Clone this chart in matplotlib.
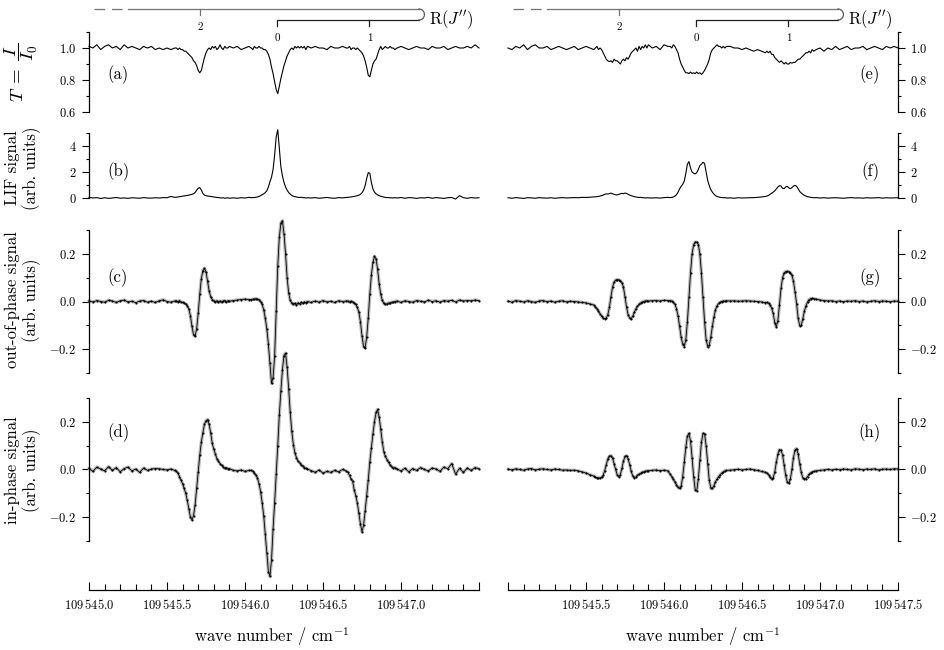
import numpy as np
import matplotlib
matplotlib.use("Agg")
import matplotlib.pyplot as plt
from matplotlib.lines import Line2D
from matplotlib.ticker import FixedLocator, FuncFormatter
from matplotlib.transforms import blended_transform_factory

plt.rcParams.update({
    "font.family": "serif",
    "font.serif": ["cmr10", "DejaVu Serif"],
    "mathtext.fontset": "cm",
    "axes.formatter.use_mathtext": True,
    "axes.linewidth": 0.9,
})

# ---------------------------------------------------------------- data
# sample positions (cm^-1), shared by all eight traces
wavenumber = [
    109545.000, 109545.025, 109545.050, 109545.075, 109545.100, 109545.125, 109545.150, 109545.175,
    109545.200, 109545.225, 109545.250, 109545.275, 109545.300, 109545.325, 109545.350, 109545.375,
    109545.400, 109545.425, 109545.450, 109545.475, 109545.500, 109545.525, 109545.550,
    109545.56, 109545.57, 109545.58, 109545.59, 109545.60, 109545.61, 109545.62, 109545.63, 109545.64,
    109545.65, 109545.66, 109545.67, 109545.68, 109545.69, 109545.70, 109545.71, 109545.72, 109545.73,
    109545.74, 109545.75, 109545.76, 109545.77, 109545.78, 109545.79, 109545.80, 109545.81, 109545.82,
    109545.83, 109545.84, 109545.85, 109545.86, 109545.87, 109545.88, 109545.89, 109545.90,
    109545.925, 109545.950, 109545.975, 109546.000, 109546.025,
    109546.04, 109546.05, 109546.06, 109546.07, 109546.08, 109546.09, 109546.10, 109546.11, 109546.12,
    109546.13, 109546.14, 109546.15, 109546.16, 109546.17, 109546.18, 109546.19, 109546.20, 109546.21,
    109546.22, 109546.23, 109546.24, 109546.25, 109546.26, 109546.27, 109546.28, 109546.29, 109546.30,
    109546.31, 109546.32, 109546.33, 109546.34, 109546.35, 109546.36, 109546.37, 109546.38, 109546.39,
    109546.40,
    109546.425, 109546.450, 109546.475, 109546.500, 109546.525, 109546.550, 109546.575, 109546.600,
    109546.625, 109546.650,
    109546.66, 109546.67, 109546.68, 109546.69, 109546.70, 109546.71, 109546.72, 109546.73, 109546.74,
    109546.75, 109546.76, 109546.77, 109546.78, 109546.79, 109546.80, 109546.81, 109546.82, 109546.83,
    109546.84, 109546.85, 109546.86, 109546.87, 109546.88, 109546.89, 109546.90, 109546.91, 109546.92,
    109546.93, 109546.94, 109546.95, 109546.96,
    109546.975, 109547.000, 109547.025, 109547.050, 109547.075, 109547.100, 109547.125, 109547.150,
    109547.175, 109547.200, 109547.225, 109547.250, 109547.275, 109547.300, 109547.325, 109547.350,
    109547.375, 109547.400, 109547.425, 109547.450, 109547.475, 109547.500,
]

# (a) transmission T = I/I0, left column
transmission_left = [
    1.01, 1.00, 1.02, 0.99, 1.01, 1.02, 1.00, 1.01, 0.99, 1.02, 1.00, 1.01, 1.00, 0.99, 1.01, 1.00,
    1.01, 0.99, 1.00, 0.99, 1.00, 0.99, 1.00,
    1.00, 0.99, 1.00, 0.99, 0.99, 0.98, 0.98, 0.97, 0.96, 0.95, 0.94, 0.92, 0.91, 0.89, 0.86, 0.845,
    0.86, 0.90, 0.94, 0.97, 0.99, 1.00, 0.99, 1.01, 1.00, 1.01, 0.99, 1.00, 1.02, 1.00, 0.99, 1.01,
    1.00, 1.00, 1.01,
    1.00, 1.01, 0.99, 1.00, 1.01,
    1.00, 0.99, 1.01, 1.00, 1.00, 1.01, 1.00, 1.00, 0.99, 0.99, 0.98, 0.96, 0.93, 0.88, 0.84, 0.79,
    0.74, 0.715, 0.76, 0.81, 0.85, 0.89, 0.92, 0.95, 0.97, 0.99, 1.00, 0.99, 1.01, 1.00, 1.01, 1.00,
    1.01, 1.00, 1.01, 0.99, 1.01,
    1.00, 1.01, 1.00, 1.00, 0.99, 1.01, 1.00, 1.00, 1.01, 1.00,
    1.00, 1.01, 0.99, 1.00, 1.00, 0.99, 1.00, 0.99, 0.98, 0.97, 0.95, 0.92, 0.88, 0.83, 0.82, 0.86,
    0.90, 0.92, 0.93, 0.96, 0.99, 1.01, 0.99, 1.00, 1.01, 1.00, 1.00, 1.01, 1.00, 1.00, 0.99,
    1.00, 1.01, 1.00, 0.99, 1.00, 1.01, 1.00, 1.00, 0.99, 1.01, 1.00, 1.00, 1.01, 0.99, 1.00, 1.01,
    1.00, 1.00, 1.01, 1.00, 1.02, 1.00,
]

# (b) LIF signal, left column
lif_left = [
    0.05, 0.00, 0.03, -0.04, 0.02, -0.03, 0.00, 0.04, -0.02, 0.01, -0.03, 0.02, 0.00, -0.02, 0.03,
    0.00, -0.01, 0.02, 0.00, 0.03, 0.02, 0.12, 0.05,
    0.06, 0.08, 0.10, 0.12, 0.14, 0.16, 0.18, 0.20, 0.22, 0.25, 0.28, 0.33, 0.42, 0.60, 0.75, 0.80,
    0.62, 0.35, 0.22, 0.18, 0.15, 0.14, 0.12, 0.10, 0.08, 0.06, 0.04, 0.03, 0.02, 0.00, 0.02, -0.02,
    0.00, 0.01, -0.02,
    0.01, -0.02, 0.02, 0.00, 0.05,
    0.02, 0.04, 0.03, 0.06, 0.08, 0.12, 0.18, 0.25, 0.32, 0.42, 0.55, 0.85, 1.25, 1.60, 2.20, 3.30,
    4.70, 5.25, 3.80, 2.40, 1.70, 1.20, 0.85, 0.60, 0.42, 0.30, 0.20, 0.14, 0.10, 0.08, 0.05, 0.04,
    0.06, 0.02, 0.03, 0.00, 0.02,
    0.00, 0.03, -0.02, 0.01, 0.04, 0.00, -0.02, 0.03, 0.01, 0.04,
    0.05, 0.06, 0.08, 0.10, 0.12, 0.15, 0.18, 0.22, 0.28, 0.40, 0.60, 0.95, 1.50, 1.95, 1.90, 1.20,
    0.70, 0.45, 0.32, 0.24, 0.18, 0.13, 0.10, 0.07, 0.05, 0.03, 0.04, 0.01, 0.02, 0.00, 0.03,
    0.00, 0.04, -0.02, 0.03, 0.01, -0.03, 0.02, 0.00, 0.05, -0.02, 0.03, 0.00, -0.03, 0.02, 0.04,
    -0.08, 0.18, 0.02, -0.02, 0.03, 0.00, 0.02,
]

# (c) out-of-phase signal, left column
outphase_left = [
    0.003, -0.002, 0.004, 0.000, -0.003, 0.005, 0.002, -0.004, 0.003, 0.006, -0.002, 0.001, -0.005,
    0.002, 0.004, -0.003, 0.001, -0.004, 0.003, 0.007, 0.000, -0.003, 0.002,
    0.003, -0.002, 0.004, -0.003, -0.004, -0.006, -0.010, -0.018, -0.032, -0.060, -0.105, -0.140,
    -0.145, -0.115, -0.050, 0.030, 0.095, 0.130, 0.140, 0.125, 0.085, 0.045, 0.020, 0.008, 0.004,
    -0.002, 0.003, -0.004, 0.002, -0.003, 0.002, 0.004, -0.002, 0.003, 0.001,
    0.004, 0.006, 0.008, 0.010, 0.008,
    0.008, 0.010, 0.009, 0.012, 0.010, 0.008, 0.000, -0.012, -0.035, -0.070, -0.115, -0.180, -0.260,
    -0.345, -0.320, -0.230, -0.040, 0.150, 0.270, 0.330, 0.340, 0.285, 0.200, 0.100, 0.035, 0.005,
    -0.008, -0.012, -0.008, -0.015, -0.006, -0.010, -0.004, -0.008, -0.002, -0.005, 0.000,
    -0.004, 0.002, -0.003, 0.004, -0.002, 0.001, -0.004, 0.003, 0.000, 0.002,
    0.002, -0.003, 0.001, -0.002, -0.006, -0.012, -0.025, -0.045, -0.085, -0.145, -0.190, -0.195,
    -0.150, -0.070, 0.030, 0.110, 0.165, 0.190, 0.180, 0.135, 0.075, 0.030, 0.005, -0.008, -0.012,
    -0.010, -0.006, -0.008, -0.003, -0.004, 0.000,
    0.002, -0.004, 0.003, 0.000, -0.003, 0.004, 0.001, -0.002, 0.005, 0.000, 0.003, -0.003, 0.004,
    0.001, 0.005, -0.002, 0.006, 0.002, 0.004, 0.003, 0.006, 0.004,
]

# (d) in-phase signal, left column
inphase_left = [
    0.005, -0.008, 0.010, 0.002, -0.006, 0.012, -0.004, 0.008, -0.010, 0.004, 0.010, -0.006, 0.002,
    -0.012, 0.006, -0.004, 0.002, 0.004, 0.003, 0.000, -0.002, 0.002, -0.004,
    -0.008, -0.015, -0.030, -0.045, -0.060, -0.080, -0.100, -0.130, -0.165, -0.200, -0.212, -0.195,
    -0.150, -0.080, -0.010, 0.060, 0.115, 0.155, 0.190, 0.205, 0.210, 0.190, 0.155, 0.110, 0.085,
    0.065, 0.045, 0.035, 0.025, 0.018, 0.012, 0.005, 0.008, 0.002, 0.004,
    -0.004, -0.006, -0.002, -0.008, -0.004,
    -0.004, -0.008, -0.015, -0.025, -0.036, -0.060, -0.093, -0.140, -0.195, -0.270, -0.350, -0.430,
    -0.450, -0.380, -0.250, -0.140, -0.020, 0.100, 0.230, 0.330, 0.420, 0.480, 0.490, 0.430, 0.340,
    0.240, 0.160, 0.105, 0.070, 0.050, 0.035, 0.028, 0.020, 0.015, 0.008, 0.005, 0.002,
    -0.005, -0.012, -0.002, -0.015, -0.008, -0.012, -0.004, -0.010, 0.000, -0.006,
    -0.012, -0.025, -0.040, -0.050, -0.085, -0.110, -0.140, -0.185, -0.230, -0.262, -0.235, -0.175,
    -0.110, -0.045, 0.030, 0.090, 0.150, 0.200, 0.240, 0.253, 0.220, 0.170, 0.115, 0.075, 0.055,
    0.042, 0.030, 0.020, 0.012, 0.006, 0.008,
    0.002, -0.006, 0.005, -0.010, 0.004, -0.004, 0.008, 0.000, -0.006, 0.006, 0.002, -0.008, 0.010,
    0.003, 0.025, -0.020, 0.005, -0.012, 0.006, -0.004, 0.008, 0.003,
]

# (e) transmission, right column
transmission_right = [
    1.00, 0.99, 1.01, 1.00, 1.02, 0.99, 1.01, 1.02, 1.00, 1.00, 1.01, 0.99, 1.00, 1.01, 1.00, 0.99,
    1.00, 1.01, 0.99, 1.00, 1.01, 1.00, 0.99,
    1.00, 1.01, 0.99, 1.00, 0.99, 0.97, 0.95, 0.93, 0.92, 0.915, 0.92, 0.91, 0.93, 0.92, 0.92, 0.91,
    0.90, 0.92, 0.93, 0.92, 0.94, 0.93, 0.95, 0.97, 0.98, 0.99, 1.00, 0.98, 1.01, 0.99, 1.01, 1.00,
    1.02, 1.00, 1.02,
    1.00, 1.01, 0.99, 1.02, 1.01,
    1.01, 1.00, 1.02, 1.01, 0.99, 0.97, 0.93, 0.90, 0.88, 0.86, 0.845, 0.845, 0.84, 0.85, 0.84,
    0.845, 0.84, 0.85, 0.84, 0.845, 0.835, 0.845, 0.86, 0.88, 0.90, 0.93, 0.97, 0.99, 1.00, 1.01,
    1.02, 1.01, 1.01, 1.00, 1.01, 1.00, 1.01,
    1.01, 1.00, 1.00, 0.99, 1.00, 0.99, 0.98, 0.99, 0.98, 0.97,
    0.98, 0.97, 0.98, 0.96, 0.96, 0.94, 0.93, 0.92, 0.91, 0.92, 0.91, 0.90, 0.91, 0.90, 0.90, 0.91,
    0.905, 0.91, 0.91, 0.92, 0.93, 0.93, 0.94, 0.95, 0.96, 0.97, 0.97, 0.98, 0.97, 0.99, 0.98,
    0.99, 1.00, 0.98, 1.00, 0.99, 1.01, 0.99, 1.00, 1.01, 0.99, 1.00, 1.00, 1.01, 0.99, 1.00, 1.01,
    1.00, 0.99, 1.01, 1.00, 1.01, 1.00,
]

# (f) LIF signal, right column
lif_right = [
    0.02, -0.02, 0.03, 0.00, -0.03, 0.02, 0.01, -0.02, 0.03, 0.00, -0.01, 0.02, -0.02, 0.01, 0.03,
    0.00, 0.02, 0.03, 0.02, 0.05, 0.04, 0.06, 0.08,
    0.08, 0.10, 0.12, 0.15, 0.18, 0.22, 0.28, 0.32, 0.30, 0.34, 0.38, 0.32, 0.28, 0.25, 0.24, 0.28,
    0.32, 0.36, 0.33, 0.38, 0.35, 0.28, 0.22, 0.18, 0.14, 0.10, 0.08, 0.06, 0.04, 0.05, 0.02, 0.03,
    0.00, 0.02, 0.01,
    0.00, 0.02, -0.01, 0.03, 0.05,
    0.03, 0.05, 0.08, 0.15, 0.25, 0.45, 0.70, 0.90, 1.05, 1.30, 1.90, 2.60, 2.80, 2.30, 2.00, 1.90,
    1.85, 1.95, 2.20, 2.50, 2.60, 2.75, 2.65, 2.00, 1.35, 0.95, 0.65, 0.45, 0.30, 0.18, 0.12, 0.08,
    0.05, 0.04, 0.02, 0.03, 0.00,
    0.01, -0.02, 0.02, 0.00, 0.01, 0.02, 0.03, 0.05, 0.08, 0.12,
    0.15, 0.20, 0.28, 0.35, 0.45, 0.55, 0.70, 0.85, 0.95, 0.92, 0.75, 0.72, 0.85, 0.90, 0.78, 0.72,
    0.80, 0.92, 0.97, 0.90, 0.70, 0.50, 0.38, 0.28, 0.20, 0.15, 0.10, 0.08, 0.05, 0.04, 0.02,
    0.03, 0.00, 0.02, -0.01, 0.01, 0.02, 0.00, -0.02, 0.01, 0.03, 0.00, 0.01, -0.01, 0.02, 0.00,
    0.01, 0.03, -0.01, 0.02, 0.00, 0.01, 0.02,
]

# (g) out-of-phase signal, right column
outphase_right = [
    0.002, -0.003, 0.004, 0.001, -0.002, 0.003, 0.000, -0.004, 0.002, 0.004, -0.001, 0.002, -0.003,
    0.001, 0.003, -0.002, 0.001, 0.000, -0.002, -0.004, -0.006, -0.010, -0.015,
    -0.022, -0.030, -0.040, -0.052, -0.062, -0.070, -0.072, -0.070, -0.055, -0.025, 0.020, 0.060,
    0.082, 0.090, 0.092, 0.091, 0.088, 0.080, 0.060, 0.020, -0.025, -0.055, -0.070, -0.072, -0.062,
    -0.045, -0.030, -0.020, -0.012, -0.006, -0.003, 0.000, 0.002, 0.003, 0.002,
    0.003, 0.004, 0.002, 0.005, 0.004,
    0.004, 0.002, -0.004, -0.012, -0.030, -0.060, -0.105, -0.150, -0.180, -0.190, -0.160, -0.085,
    0.020, 0.120, 0.200, 0.240, 0.250, 0.250, 0.240, 0.200, 0.120, 0.020, -0.085, -0.160, -0.190,
    -0.185, -0.150, -0.105, -0.065, -0.035, -0.018, -0.008, -0.003, 0.000, 0.002, 0.001, 0.003,
    0.002, 0.003, 0.001, 0.002, 0.003, 0.002, 0.001, 0.000, -0.002, -0.005,
    -0.004, -0.008, -0.015, -0.028, -0.050, -0.090, -0.107, -0.080, -0.015, 0.055, 0.100, 0.120,
    0.126, 0.127, 0.126, 0.122, 0.110, 0.085, 0.040, -0.010, -0.070, -0.102, -0.100, -0.072, -0.040,
    -0.018, -0.002, 0.008, 0.012, 0.013, 0.012,
    0.010, 0.006, 0.004, 0.002, 0.003, 0.000, 0.002, -0.001, 0.002, 0.001, 0.003, 0.000, 0.002,
    -0.002, 0.001, 0.003, 0.000, 0.002, 0.001, -0.001, 0.002, 0.001,
]

# (h) in-phase signal, right column
inphase_right = [
    0.002, -0.002, 0.003, 0.000, -0.003, 0.002, 0.004, -0.002, 0.001, 0.003, 0.000, -0.002, 0.002,
    0.000, -0.003, -0.002, -0.004, -0.003, -0.006, -0.010, -0.015, -0.022, -0.028,
    -0.033, -0.035, -0.036, -0.035, -0.033, -0.025, -0.005, 0.020, 0.045, 0.056, 0.058, 0.048,
    0.025, 0.000, -0.022, -0.030, -0.022, 0.005, 0.035, 0.055, 0.058, 0.045, 0.020, -0.008, -0.028,
    -0.035, -0.032, -0.025, -0.020, -0.016, -0.012, -0.010, -0.008, -0.006, -0.005,
    -0.004, -0.002, -0.005, -0.003, -0.006,
    -0.020, -0.030, -0.042, -0.052, -0.065, -0.075, -0.080, -0.070, -0.030, 0.030, 0.095, 0.140,
    0.152, 0.120, 0.050, -0.030, -0.085, -0.090, -0.040, 0.040, 0.115, 0.152, 0.150, 0.100, 0.025,
    -0.045, -0.078, -0.080, -0.068, -0.052, -0.040, -0.030, -0.022, -0.015, -0.010, -0.006, -0.004,
    -0.003, -0.001, 0.001, -0.002, 0.000, 0.002, -0.001, -0.004, -0.008, -0.012,
    -0.015, -0.022, -0.032, -0.040, -0.035, -0.010, 0.030, 0.065, 0.083, 0.082, 0.060, 0.020,
    -0.025, -0.052, -0.058, -0.040, 0.000, 0.050, 0.083, 0.088, 0.065, 0.025, -0.012, -0.035,
    -0.040, -0.038, -0.030, -0.020, -0.014, -0.010, -0.008,
    -0.006, -0.004, -0.002, 0.000, -0.002, 0.001, -0.001, 0.002, 0.000, -0.002, 0.003, 0.001,
    -0.001, 0.002, 0.000, 0.003, -0.002, 0.001, 0.002, 0.000, 0.003, 0.002,
]

# R-branch assignment comb
rbranch_J = ["2", "0", "1"]
rbranch_pos = [109545.713, 109546.207, 109546.797]

# axis tick values
x_major = [109545.0, 109545.5, 109546.0, 109546.5, 109547.0, 109547.5]
x_labels_left = [109545.0, 109545.5, 109546.0, 109546.5, 109547.0]
x_labels_right = [109545.5, 109546.0, 109546.5, 109547.0, 109547.5]

for _name, _arr in [("transmission_left", transmission_left), ("lif_left", lif_left),
                    ("outphase_left", outphase_left), ("inphase_left", inphase_left),
                    ("transmission_right", transmission_right), ("lif_right", lif_right),
                    ("outphase_right", outphase_right), ("inphase_right", inphase_right)]:
    assert len(_arr) == len(wavenumber), (_name, len(_arr), len(wavenumber))

# ---------------------------------------------------------------- figure
W, H = 945, 650
fig = plt.figure(figsize=(W / 100, H / 100), dpi=100)

def px_x(p):
    return p / W

def px_y(p):
    return 1 - p / H

LX0, RX0, AW = 89, 508, 390

# rows: (top_px, bottom_px, ylim)
rows = {
    "T": (32, 112, (0.6, 1.1)),
    "LIF": (133, 198, (0.0, 5.0)),
    "out": (230.25, 372.75, (-0.3, 0.3)),
    "in": (398.25, 590.0, (-0.5074, 0.3)),
}

def make_ax(x0, row):
    top, bot, ylim = rows[row]
    ax = fig.add_axes([px_x(x0), px_y(bot), AW / W, (bot - top) / H])
    ax.set_xlim(109545.0, 109547.5)
    ax.set_ylim(*ylim)
    ax.patch.set_alpha(0)
    return ax

ytick_spec = {
    "T": ([0.6, 0.8, 1.0], [0.7, 0.9, 1.1], (0.6, 1.1), "{:.1f}"),
    "LIF": ([0, 2, 4], [1, 3, 5], (0, 5), "{:.0f}"),
    "out": ([-0.2, 0.0, 0.2], [-0.3, -0.1, 0.1, 0.3], (-0.3, 0.3), "{:.1f}"),
    "in": ([-0.2, 0.0, 0.2], [-0.3, -0.1, 0.1, 0.3], (-0.3, 0.3), "{:.1f}"),
}

def ylab_fmt(fmt):
    def f(v, pos):
        v = round(v, 6) + 0.0
        s = fmt.format(v)
        if s.startswith("-0") and float(s) == 0:
            s = s[1:]
        return "$" + s + "$"
    return FuncFormatter(f)

def wn_fmt(labelled):
    def f(v, pos):
        if not any(abs(v - s) < 1e-6 for s in labelled):
            return ""
        s = "{:.1f}".format(v)
        return r"$%s\,%s$" % (s[:3], s[3:])
    return FuncFormatter(f)

def style(ax, row, side, bottom_axis, labelled):
    majors, minors, bounds, fmt = ytick_spec[row]
    ax.spines["top"].set_visible(False)
    ax.spines["left" if side == "right" else "right"].set_visible(False)
    ax.spines[side].set_bounds(*bounds)
    ax.yaxis.set_major_locator(FixedLocator(majors))
    ax.yaxis.set_minor_locator(FixedLocator(minors))
    ax.yaxis.set_major_formatter(ylab_fmt(fmt))
    if side == "right":
        ax.yaxis.tick_right()
    ax.tick_params(axis="y", which="major", direction="out", length=5, width=0.8,
                   labelsize=9, pad=4)
    ax.tick_params(axis="y", which="minor", direction="out", length=2.5, width=0.8)
    if side == "right":
        ax.tick_params(axis="y", which="both", left=False, right=True,
                       labelleft=False, labelright=True)
    if bottom_axis:
        ax.xaxis.set_major_locator(FixedLocator(x_major))
        ax.xaxis.set_minor_locator(FixedLocator([109545.0 + 0.1 * i for i in range(26)]))
        ax.xaxis.set_major_formatter(wn_fmt(labelled))
        ax.tick_params(axis="x", which="major", direction="in", length=6, width=0.8,
                       labelsize=9, pad=6)
        ax.tick_params(axis="x", which="minor", direction="in", length=4, width=0.8)
    else:
        ax.spines["bottom"].set_visible(False)
        ax.tick_params(axis="x", which="both", bottom=False, labelbottom=False)

columns = [
    (LX0, "left", x_labels_left, transmission_left, lif_left, outphase_left, inphase_left),
    (RX0, "right", x_labels_right, transmission_right, lif_right, outphase_right, inphase_right),
]

top_axes = []
for x0, side, labelled, tr_y, lif_y, out_y, in_y in columns:
    axT = make_ax(x0, "T")
    axT.plot(wavenumber, tr_y, color="k", lw=0.8, clip_on=False)
    style(axT, "T", side, False, labelled)

    axL = make_ax(x0, "LIF")
    axL.plot(wavenumber, lif_y, color="k", lw=0.8, clip_on=False)
    style(axL, "LIF", side, False, labelled)

    for row, yv in (("out", out_y), ("in", in_y)):
        ax = make_ax(x0, row)
        # grey line under the measured points (fit), black dotted trace on top (data)
        ax.plot(wavenumber, yv, color="0.72", lw=2.4, solid_capstyle="round",
                clip_on=False, zorder=2)
        ax.plot(wavenumber, yv, color="k", lw=0.6, marker="o", ms=1.5, mew=0,
                clip_on=False, zorder=3)
        style(ax, row, side, row == "in", labelled)
    top_axes.append(axT)

# ---------------------------------------------------------------- R(J'') comb
def draw_branch(ax):
    tr = blended_transform_factory(ax.transData, fig.transFigure)
    y_up, y_lo = px_y(9), px_y(20)
    tk = 6 / H
    x_end = 109547.115
    up_col, lo_col = "0.45", "0.12"
    fig.add_artist(Line2D([109545.035, 109545.215], [y_up, y_up], transform=tr, color=up_col,
                          lw=0.9, ls=(0, (8.5, 5.5))))
    fig.add_artist(Line2D([109545.25, x_end], [y_up, y_up], transform=tr, color=up_col, lw=0.9))
    x0 = rbranch_pos[rbranch_J.index("0")]
    fig.add_artist(Line2D([x0, x0, x_end], [y_lo - tk, y_lo, y_lo], transform=tr,
                          color=lo_col, lw=0.9))
    # rounded right end joining the two lines
    xc = ax.transData.transform((x_end, 0))[0] / fig.bbox.width
    yc = 0.5 * (y_up + y_lo)
    r = 5.5
    th = np.linspace(-np.pi / 2, np.pi / 2, 40)
    fig.add_artist(Line2D(xc + r * np.cos(th) / W, yc + r * np.sin(th) / H,
                          transform=fig.transFigure, color="0.35", lw=0.9))
    for J, pos in zip(rbranch_J, rbranch_pos):
        if J == "2":
            fig.add_artist(Line2D([pos, pos], [y_up, y_up - tk], transform=tr,
                                  color=up_col, lw=0.9))
            fig.text(pos, px_y(27), J, transform=tr, ha="center", va="center", fontsize=8)
        else:
            if J != "0":
                fig.add_artist(Line2D([pos, pos], [y_lo, y_lo - tk], transform=tr,
                                      color=lo_col, lw=0.9))
            fig.text(pos, px_y(38), J, transform=tr, ha="center", va="center", fontsize=8)
    fig.text(xc + 10 / W, px_y(19.5), r"$\mathrm{R}(J^{\prime\prime})$",
             ha="left", va="center", fontsize=12)

for ax in top_axes:
    draw_branch(ax)

# ---------------------------------------------------------------- labels
for lab, xp, yp, ha in [("(a)", 107, 75, "left"), ("(b)", 107, 172, "left"),
                        ("(c)", 107, 278, "left"), ("(d)", 107, 433, "left"),
                        ("(e)", 870, 75, "center"), ("(f)", 870, 172, "center"),
                        ("(g)", 870, 278, "center"), ("(h)", 870, 433, "center")]:
    fig.text(px_x(xp), px_y(yp), lab, ha=ha, va="center", fontsize=12)

fig.text(px_x(21), px_y(72), r"$T\;=\;\dfrac{I}{I_0}$", rotation=90, ha="center", va="center",
         fontsize=13.5)
for txt, yp in [("LIF signal\n(arb. units)", 168), ("out-of-phase signal\n(arb. units)", 300),
                ("in-phase signal\n(arb. units)", 470)]:
    fig.text(px_x(23), px_y(yp), txt, rotation=90, ha="center", va="center",
             multialignment="center", fontsize=12, linespacing=1.15)

for xc in (LX0 + AW / 2 - 12, RX0 + AW / 2):
    fig.text(px_x(xc), px_y(637), r"wave number / cm$^{-1}$", ha="center", va="center",
             fontsize=12)

fig.savefig("out.png", dpi=100)
